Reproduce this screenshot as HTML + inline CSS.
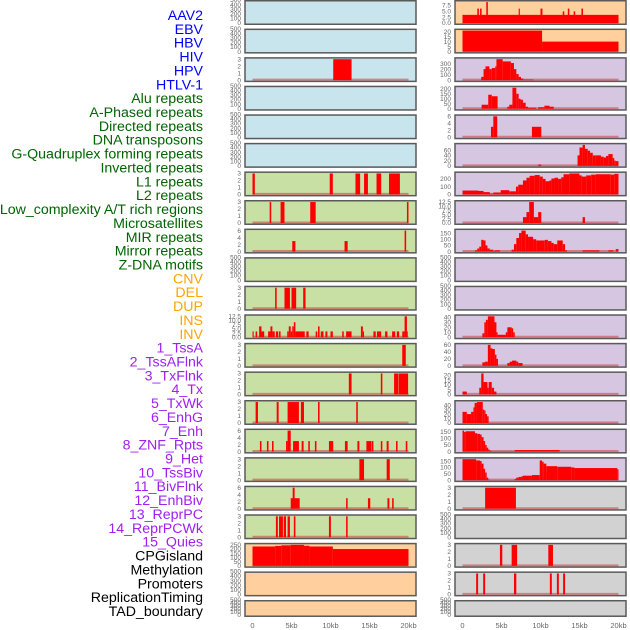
<!DOCTYPE html>
<html><head><meta charset="utf-8"><style>
html,body{margin:0;padding:0;background:#fff;width:630px;height:630px;overflow:hidden}
svg{display:block}
</style></head><body>
<svg id="chart" width="630" height="630" xmlns="http://www.w3.org/2000/svg" font-family="Liberation Sans, sans-serif"></svg>
<script>
// ---- labels ----
const labels=["AAV2","EBV","HBV","HIV","HPV","HTLV-1","Alu repeats","A-Phased repeats","Directed repeats","DNA transposons","G-Quadruplex forming repeats","Inverted repeats","L1 repeats","L2 repeats","Low_complexity A/T rich regions","Microsatellites","MIR repeats","Mirror repeats","Z-DNA motifs","CNV","DEL","DUP","INS","INV","1_TssA","2_TssAFlnk","3_TxFlnk","4_Tx","5_TxWk","6_EnhG","7_Enh","8_ZNF_Rpts","9_Het","10_TssBiv","11_BivFlnk","12_EnhBiv","13_ReprPC","14_ReprPCWk","15_Quies","CPGisland","Methylation","Promoters","ReplicationTiming","TAD_boundary"];
const labelGroups=[6,13,5,15,5];
const xTicks=[0,5,10,15,20];
const xTickLabels=["0","5kb","10kb","15kb","20kb"];
// ---- middle column data [startKb,endKb,value] ----
const mHIV=[[10.35,12.7,3]];
const mL1=[[0,0.3,3],[9.9,10.3,3],[13.2,13.8,3],[14.3,14.8,3],[15.9,16.5,3],[17.5,18.9,3]];
const mLowC=[[2.2,2.4,3],[3.6,4.1,3],[7.4,8.1,3],[19.8,20,3]];
const mMIR=[[5.1,5.5,3],[11.8,12.2,3],[19.5,19.7,6]];
const mCNV=[[2.9,3.1,3],[4.1,4.8,3],[5.0,5.6,3],[6.5,6.8,3]];
const mINS=[[0,0.15,3.5],[0.4,0.6,3.5],[0.85,1.15,6.5],[1.15,1.5,3.5],[2.0,2.3,3.5],[2.3,2.55,6.5],[2.55,2.85,3.5],[3.0,3.3,3.5],[3.4,3.6,3.5],[4.45,4.65,3.5],[4.65,4.9,6.5],[4.9,5.1,3.5],[5.1,5.3,6.5],[5.3,5.5,9],[5.5,6.7,3.5],[6.9,7.2,3.5],[8.1,8.3,3.5],[8.4,8.6,6.5],[8.75,9.1,3.5],[9.35,9.6,3.5],[10.0,10.3,3.5],[11.5,11.7,3.5],[12.0,12.7,3.5],[13.9,14.15,6.5],[14.15,14.3,3.5],[15.5,15.8,3.5],[15.95,16.5,3.5],[17.0,17.3,3.5],[17.9,18.3,3.5],[18.5,18.8,3.5],[19.2,19.5,3.5],[19.5,19.8,12.5],[19.8,19.9,3.5]];
const mTssA=[[19.2,19.65,3]];
const mTssAF=[[12.35,12.7,3],[16.45,16.65,3],[18.15,18.7,3],[18.75,19.95,3]];
const mTx=[[0.4,0.7,3],[3.1,3.35,3],[4.5,5.95,3],[6.2,6.6,3],[8.4,8.6,3],[13.3,13.5,3]];
const mTxWk=[[0.95,1.15,3],[1.85,2.05,3],[2.5,2.7,3],[4.3,4.5,3],[4.5,4.9,6],[5.2,5.95,3],[6.3,6.55,3],[7.15,7.35,3],[8.0,8.2,3],[9.8,10.35,3],[11.85,12.2,3],[13.45,13.7,3],[14.6,15.2,3],[15.25,15.5,3],[16.45,16.65,3],[17.2,17.45,3],[18.4,18.6,3],[19.65,19.85,3]];
const mEnh=[[13.7,14.3,3],[17.2,17.6,3]];
const mZNF=[[4.9,6.05,3],[5.15,5.4,6],[12.0,12.2,3],[14.8,15.1,3],[17.3,17.55,3],[17.9,18.1,3]];
const mTss=[[3.0,3.25,3],[3.4,3.9,3],[4.0,4.3,3],[4.5,4.8,3],[5.3,5.5,3],[9.8,10.05,3],[12.0,12.2,3]];
const mCPG=[[0,2.9,228],[2.9,3.7,235],[3.7,4.9,242],[4.9,6.6,247],[6.6,7.3,237],[7.3,10.3,228],[10.3,20,198]];
// ---- right column data ----
const rAAV=[[0,20,3.5],[1.9,2.1,6.2],[2.25,2.45,6.2],[3.05,3.25,9],[7.2,7.35,6.2],[10.0,10.25,6.2],[12.85,13.05,5],[13.5,13.7,6.2],[14.25,14.45,5],[15.25,15.45,6.2]];
const rEBV=[[0,10.2,21],[10.2,20,10]];
const rHPV=[[2.4,2.7,60],[2.7,2.95,200],[2.95,3.45,250],[3.45,3.75,200],[3.75,4.2,220],[4.2,4.35,250],[4.35,5.15,380],[5.15,6.2,340],[6.2,6.6,310],[6.6,6.9,200],[6.9,7.2,110],[7.2,7.5,60],[7.5,7.8,30],[7.8,9.1,10]];
const rAlu=[[2.45,3.3,40],[3.3,3.75,140],[3.75,4.5,125],[5.75,6.0,20],[6.0,6.4,40],[6.4,6.9,210],[6.9,7.2,150],[7.2,7.45,100],[7.45,7.75,90],[7.75,8.1,60],[8.1,8.4,20],[8.4,9.45,10],[9.7,10.5,15],[10.5,11.15,30],[11.15,11.7,20]];
const rDir=[[3.65,3.95,3],[3.95,4.45,6],[8.9,10.1,3]];
const rGQ=[[9.7,10.1,5],[14.75,15.0,40],[15.0,15.4,70],[15.4,15.7,80],[15.7,16.05,65],[16.05,16.35,58],[16.35,16.7,50],[16.7,17.0,40],[17.0,17.75,40],[17.75,18.1,35],[18.1,18.4,32],[18.4,18.7,38],[18.7,19.25,45],[19.25,19.45,30],[19.45,19.65,20],[19.65,20,18]];
const rL1=[[0,2.05,50],[2.05,2.7,45],[2.7,3.5,30],[3.5,3.95,10],[3.95,4.9,25],[4.9,6.0,55],[6.0,6.85,40],[6.85,7.15,100],[7.15,7.75,125],[7.75,8.2,180],[8.2,8.6,215],[8.6,9.25,240],[9.25,9.9,250],[9.9,10.3,230],[10.3,10.65,200],[10.65,11.15,170],[11.15,11.4,180],[11.4,11.8,205],[11.8,12.25,215],[12.25,12.65,200],[12.65,12.95,220],[12.95,13.7,260],[13.7,15.0,270],[15.0,15.3,245],[15.3,15.85,230],[15.85,16.5,245],[16.5,17.1,255],[17.1,19.0,260],[19.0,19.45,255],[19.45,20,265]];
const rLowC=[[7.75,8.2,3.5],[8.2,8.55,6.5],[8.55,9.15,12.5],[9.15,9.7,3.5],[9.7,10.1,6.5],[15.4,15.7,3.5]];
const rMIR=[[1.6,1.9,10],[1.9,2.15,25],[2.15,2.4,40],[2.4,2.7,95],[2.7,2.95,90],[2.95,3.2,50],[3.2,3.5,25],[3.5,3.95,15],[3.95,4.15,5],[4.15,4.8,10],[6.3,6.6,15],[6.6,6.9,60],[6.9,7.25,110],[7.25,7.55,150],[7.55,8.1,170],[8.1,8.4,140],[8.4,9.05,120],[9.05,9.45,100],[9.45,10.55,90],[10.55,10.95,95],[10.95,11.4,85],[11.4,11.7,70],[11.7,12.15,60],[12.15,12.85,90],[12.85,13.15,60],[13.15,13.4,10],[15.4,17.55,10],[18.7,19.35,10],[19.65,20,20]];
const rINS=[[2.55,2.8,8],[2.8,3.0,30],[3.0,3.25,35],[3.25,4.1,42],[4.1,4.35,30],[4.35,4.5,10],[4.5,5.55,5],[5.55,5.75,10],[5.75,6.3,20],[6.3,6.5,18],[6.5,6.7,10]];
const rTssA=[[2.55,2.9,10],[2.9,3.25,12],[3.25,3.6,60],[3.6,3.85,50],[3.85,4.15,48],[4.15,4.35,32],[4.35,4.55,20],[5.75,6.05,8],[6.05,6.35,12],[6.35,6.9,15],[6.9,7.15,12],[7.15,7.7,8]];
const rTssAF=[[0,0.55,3],[2.15,2.4,7],[2.4,2.7,22],[2.7,3.2,13],[3.2,3.35,7],[3.35,3.75,13],[3.75,4.05,7],[4.05,4.35,3]];
const rTxFl=[[0,0.55,25],[0.55,1.1,20],[1.1,1.4,25],[1.4,1.55,35],[1.55,1.85,45],[1.85,2.6,47],[2.6,2.8,30],[2.8,2.95,28],[2.95,3.15,20],[3.15,3.35,15]];
const rTx=[[0,0.2,160],[0.2,0.4,150],[0.4,1.6,155],[1.6,1.9,140],[1.9,2.25,135],[2.25,2.45,130],[2.45,2.7,110],[2.7,2.9,80],[2.9,3.1,50],[3.1,3.3,30],[3.3,3.5,15],[3.5,3.75,5],[3.75,6.7,2],[6.7,12.45,12]];
const rTxWk=[[0,1.75,165],[1.75,2.25,155],[2.25,2.45,150],[2.45,2.7,130],[2.7,2.9,90],[2.9,3.1,60],[3.1,3.3,20],[3.3,3.45,5],[6.7,6.9,10],[6.9,7.2,20],[7.2,7.55,25],[7.55,7.75,30],[7.75,8.9,35],[8.9,9.9,40],[9.9,10.2,155],[10.2,10.4,145],[10.4,10.75,130],[10.75,12.15,110],[12.15,13.95,105],[13.95,14.35,100],[14.35,19.85,95],[19.85,20,85]];
const rEnhG=[[2.9,6.85,3]];
const rMeth=[[4.8,5.1,3],[6.3,7.0,3],[11.0,11.6,3]];
const rProm=[[1.75,2.0,3],[2.65,2.9,3],[6.6,6.9,3],[11.2,11.45,3],[12.1,12.35,3],[12.9,13.15,3]];
// ---- tick label sets ----
const tFlat=["0","100","200","300","400","500"];
const t3=["0","1","2","3"];
const t6=["0","2","4","6"];
const t125=["0.0","2.5","5.0","7.5","10.0","12.5"];
const t75=["0.0","2.5","5.0","7.5"];
const t20=["0","5","10","15","20"];
const t300=["0","100","200","300"];
const t200=["0","50","100","150","200"];
const t60=["0","20","40","60"];
const t200b=["0","100","200"];
const t150=["0","50","100","150"];
const t40=["0","10","20","30","40"];
const t250=["0","50","100","150","200","250"];

const midRows=[[null,tFlat],[null,tFlat],[mHIV,t3],[null,tFlat],[null,tFlat],[null,tFlat],[mL1,t3],[mLowC,t3],[mMIR,t6],[null,tFlat],[mCNV,t3],[mINS,t125],[mTssA,t3],[mTssAF,t3],[mTx,t3],[mTxWk,t6],[mEnh,t3],[mZNF,t6],[mTss,t3],[mCPG,t250],[null,tFlat],[null,tFlat]];
const rightRows=[[rAAV,t75],[rEBV,t20],[rHPV,t300],[rAlu,t200],[rDir,t6],[rGQ,t60],[rL1,t200b],[rLowC,t125],[rMIR,t150],[null,tFlat],[null,tFlat],[rINS,t40],[rTssA,t60],[rTssAF,t20],[rTxFl,t40],[rTx,t150],[rTxWk,t150],[rEnhG,t3],[null,tFlat],[rMeth,t3],[rProm,t3],[null,tFlat]];

const BLUE="#c8e4ec",GREEN="#c8e0a4",ORANGE="#ffd09e",PURPLE="#d6c6e2",GREY="#d2d2d2";
const midBg=i=>i<6?BLUE:(i<19?GREEN:ORANGE);
const rightBg=i=>i<2?ORANGE:(i<17?PURPLE:GREY);
const labelColors=["#0000ff","#006400","#ffa500","#a020f0","#000000"];

const NS="http://www.w3.org/2000/svg";
const svg=document.getElementById('chart');
function mk(tag,attrs,parent){const e=document.createElementNS(NS,tag);for(const k in attrs)e.setAttribute(k,attrs[k]);(parent||svg).appendChild(e);return e;}

// labels
let gi=0,cnt=0;
labels.forEach((t,i)=>{
  while(cnt>=labelGroups[gi]){cnt=0;gi++;}
  cnt++;
  const e=mk('text',{x:203,y:15+i*13.86+5,'text-anchor':'end','font-size':'14.2',fill:labelColors[gi]});
  e.textContent=t;
  
  
});

function rowTop(i){return i*28.57;}
function rowH(i){return i===21?17:25;}

function panel(px,rows,bgFn,colName){
  const pw=171,x0=px+7.5,kbPx=7.8;
  const xs=kb=>x0+kb*kbPx;
  rows.forEach((r,i)=>{
    const data=r[0],ticks=r[1];
    const top=rowTop(i),h=rowH(i);
    const g=mk('g',{});
    
    
    const bg=mk('rect',{x:px,y:top+0.75,width:pw,height:h-1.5,fill:bgFn(i),stroke:'#5a5a5a','stroke-width':1.5},g);
    
    
    let ymax=500;
    if(data){ymax=Math.max(...data.map(d=>d[2]))*1.05;}
    const y0=top+h-2,ys=v=>y0-(v/ymax)*(h-3);
    ticks.forEach((tl,k)=>{
      const v=parseFloat(tl);
      const ty=data?ys(v):(y0-(v/500)*(h-2));
      const t=mk('text',{x:px-4,y:ty+2.2,'text-anchor':'end','font-size':'6.5',fill:'#666'},g);
      t.textContent=tl;
      
      
    });
    if(data){
      const bl=mk('line',{x1:xs(0),x2:xs(20),y1:y0-0.5,y2:y0-0.5,stroke:'rgba(200,60,60,0.55)','stroke-width':2},g);
      
      
      data.forEach(d=>{
        const b=mk('rect',{x:xs(d[0]),y:ys(d[2]),width:Math.max(0.8,xs(d[1])-xs(d[0])),height:y0-ys(d[2]),fill:'#ff0000'},g);
        
        
      });
    }
  });
  xTicks.forEach((v,k)=>{
    const t=mk('text',{x:xs(v),y:628,'text-anchor':'middle','font-size':'7.5',fill:'#666'});
    t.textContent=xTickLabels[k];
    
    
  });
}
panel(245,midRows,midBg,'middle');
panel(455,rightRows,rightBg,'right');
</script>
</body></html>
